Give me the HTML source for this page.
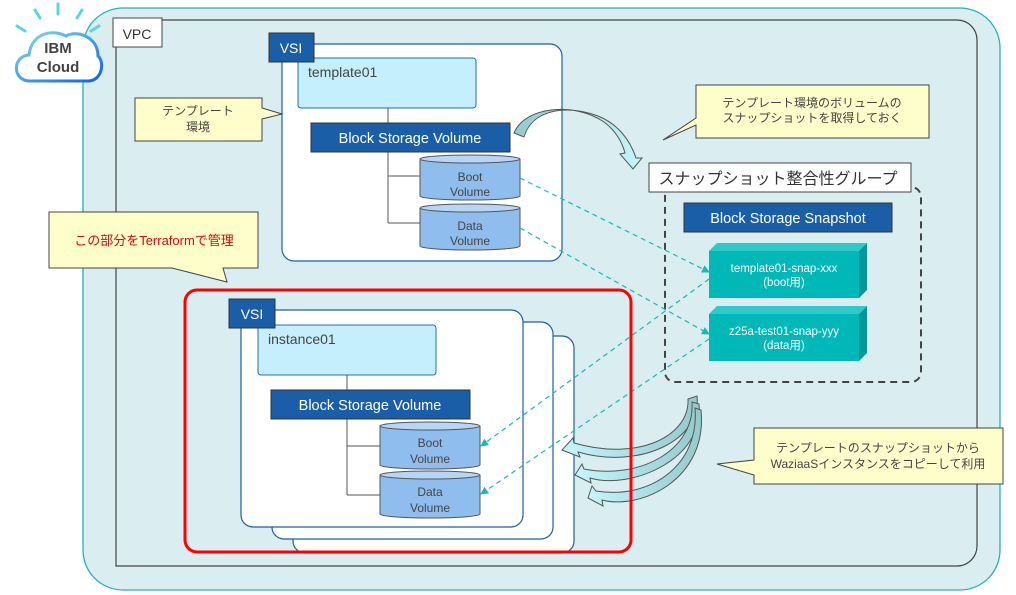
<!DOCTYPE html>
<html><head><meta charset="utf-8"><style>
html,body{margin:0;padding:0;background:#fff;}
svg{display:block;}
text{font-family:"Liberation Sans","Noto Sans CJK JP",sans-serif;}
</style></head><body>
<svg width="1016" height="595" viewBox="0 0 1016 595" xmlns="http://www.w3.org/2000/svg">
<defs>
<linearGradient id="ag" x1="0" y1="0" x2="1" y2="0"><stop offset="0" stop-color="#94cacc"/><stop offset="1" stop-color="#c4f6fc"/></linearGradient>
<linearGradient id="ag2" x1="1" y1="0" x2="0" y2="0"><stop offset="0" stop-color="#94cacc"/><stop offset="1" stop-color="#c4f6fc"/></linearGradient>
<linearGradient id="cl" x1="0" y1="0" x2="1" y2="1"><stop offset="0" stop-color="#7fe0e8"/><stop offset="1" stop-color="#1060f0"/></linearGradient>
<marker id="tri" markerWidth="8" markerHeight="8" refX="7" refY="4" orient="auto" markerUnits="userSpaceOnUse"><path d="M0,0 L8,4 L0,8 Z" fill="#1ab8b8"/></marker>
</defs>
<!-- IBM cloud region -->
<rect x="83" y="8" width="917" height="582" rx="40" fill="#daedf0" stroke="#22b4b8" stroke-width="1.3"/>
<!-- IBM Cloud logo -->
<g stroke="#5ad8d8" stroke-width="3" stroke-linecap="round">
<line x1="58" y1="4" x2="58" y2="14"/><line x1="35" y1="10" x2="40" y2="18"/><line x1="82" y1="10" x2="77" y2="18"/><line x1="17" y1="26" x2="25" y2="31"/><line x1="99" y1="26" x2="91" y2="31"/>
</g>
<path d="M30,81 C12,81 12,56 29,55 C31,35 50,28 66,36 C76,30 98,36 98,56 C105,62 102,81 88,81 Z" fill="#fff" stroke="url(#cl)" stroke-width="3"/>
<text x="58" y="53" font-size="15" font-weight="bold" fill="#444" text-anchor="middle">IBM</text>
<text x="58" y="72" font-size="15" font-weight="bold" fill="#444" text-anchor="middle">Cloud</text>
<!-- VPC -->
<path d="M116,20 H957 A20,20 0 0 1 977,40 V546 A20,20 0 0 1 957,566 H116 Z" fill="#daedf0" stroke="#444" stroke-width="1.2"/>
<rect x="113" y="18" width="49" height="29" fill="#fff" stroke="#444" stroke-width="1"/>
<text x="137" y="39" font-size="14" fill="#333" text-anchor="middle">VPC</text>

<!-- template VSI -->
<rect x="282" y="44" width="280" height="217" rx="12" fill="#fff" stroke="#1f5fa8" stroke-width="1.2"/>
<rect x="298" y="58" width="178" height="50" rx="3" fill="#c5effc" stroke="#1f6fb0"/>
<text x="308" y="77" font-size="14" fill="#444">template01</text>
<rect x="269" y="33" width="45" height="29" fill="#1a5ea8" stroke="#333"/>
<text x="291" y="53" font-size="14" fill="#fff" text-anchor="middle">VSI</text>
<path d="M388,108 V223 M388,176 H420 M388,223 H420" stroke="#555" fill="none"/>
<rect x="311" y="123" width="199" height="29" fill="#1a5ea8" stroke="#333"/>
<text x="410" y="143" font-size="14.5" fill="#fff" text-anchor="middle">Block Storage Volume</text>
<g stroke="#555" fill="#8fbdee">
<path d="M420,159 V196 A50,4 0 0 0 520,196 V159"/><ellipse cx="470" cy="159" rx="50" ry="4" fill="#b6d6f6"/>
<path d="M420,208 V246 A50,4 0 0 0 520,246 V208"/><ellipse cx="470" cy="208" rx="50" ry="4" fill="#b6d6f6"/>
</g>
<text x="470" y="181" font-size="12" fill="#444" text-anchor="middle">Boot</text>
<text x="470" y="196" font-size="12" fill="#444" text-anchor="middle">Volume</text>
<text x="470" y="230" font-size="12" fill="#444" text-anchor="middle">Data</text>
<text x="470" y="245" font-size="12" fill="#444" text-anchor="middle">Volume</text>

<!-- callout template env -->
<path d="M135,98 H262 V108 L282,114 L262,119 V141 H135 Z" fill="#fefecb" stroke="#444"/>
<text x="198" y="115" font-size="12" fill="#444" text-anchor="middle">テンプレート</text>
<text x="198" y="131" font-size="12" fill="#444" text-anchor="middle">環境</text>

<!-- terraform callout -->
<path d="M49,212 H258 V268 H223 L227,282 L172,268 H49 Z" fill="#fefecb" stroke="#444"/>
<text x="154" y="245" font-size="13" fill="#e8000a" text-anchor="middle">この部分をTerraformで管理</text>

<!-- top callout -->
<path d="M696,85 H929 V138 H696 V125 L663,140 L696,118 Z" fill="#fefecb" stroke="#444"/>
<text x="812" y="107" font-size="12" fill="#444" text-anchor="middle">テンプレート環境のボリュームの</text>
<text x="812" y="122" font-size="12" fill="#444" text-anchor="middle">スナップショットを取得しておく</text>

<!-- bottom callout -->
<path d="M754,428 H1003 V484 H754 V475 L717,464 L754,460 Z" fill="#fefecb" stroke="#444"/>
<text x="878" y="452" font-size="12" fill="#444" text-anchor="middle">テンプレートのスナップショットから</text>
<text x="878" y="468" font-size="12" fill="#444" text-anchor="middle">WaziaaSインスタンスをコピーして利用</text>

<!-- snapshot group -->
<rect x="665" y="187" width="256" height="195" rx="10" fill="none" stroke="#444" stroke-width="2" stroke-dasharray="7,5"/>
<rect x="649" y="163" width="262" height="29" fill="#fff" stroke="#444"/>
<text x="778" y="184" font-size="16" fill="#333" text-anchor="middle">スナップショット整合性グループ</text>
<rect x="684" y="203" width="208" height="29" fill="#1a5ea8" stroke="#333"/>
<text x="788" y="223" font-size="14.5" fill="#fff" text-anchor="middle">Block Storage Snapshot</text>
<g>
<path d="M709,251 L717,243 H867 L859,251 Z" fill="#30c8c8"/>
<path d="M859,251 L867,243 V290 L859,298 Z" fill="#009898"/>
<rect x="709" y="251" width="150" height="47" fill="#00b8b8"/>
<path d="M709,314 L717,306 H867 L859,314 Z" fill="#30c8c8"/>
<path d="M859,314 L867,306 V353 L859,361 Z" fill="#009898"/>
<rect x="709" y="314" width="150" height="47" fill="#00b8b8"/>
</g>
<text x="784" y="272" font-size="11.5" fill="#fff" text-anchor="middle">template01-snap-xxx</text>
<text x="784" y="286" font-size="11.5" fill="#fff" text-anchor="middle">(boot用)</text>
<text x="784" y="335" font-size="11.5" fill="#fff" text-anchor="middle">z25a-test01-snap-yyy</text>
<text x="784" y="349" font-size="11.5" fill="#fff" text-anchor="middle">(data用)</text>

<!-- instance stack -->
<rect x="293" y="336" width="281" height="217" rx="12" fill="#fff" stroke="#1f5fa8" stroke-width="1.2"/>
<rect x="272" y="322" width="281" height="217" rx="12" fill="#fff" stroke="#1f5fa8" stroke-width="1.2"/>
<rect x="241" y="310" width="282" height="217" rx="12" fill="#fff" stroke="#1f5fa8" stroke-width="1.2"/>
<rect x="258" y="325" width="178" height="50" rx="3" fill="#c5effc" stroke="#1f6fb0"/>
<text x="268" y="344" font-size="14" fill="#444">instance01</text>
<rect x="229" y="299" width="46" height="29" fill="#1a5ea8" stroke="#333"/>
<text x="252" y="319" font-size="14" fill="#fff" text-anchor="middle">VSI</text>
<path d="M347,375 V495 M347,446 H380 M347,495 H380" stroke="#555" fill="none"/>
<rect x="271" y="390" width="199" height="29" fill="#1a5ea8" stroke="#333"/>
<text x="370" y="410" font-size="14.5" fill="#fff" text-anchor="middle">Block Storage Volume</text>
<g stroke="#555" fill="#8fbdee">
<path d="M380,426 V465 A50,4 0 0 0 480,465 V426"/><ellipse cx="430" cy="426" rx="50" ry="4" fill="#b6d6f6"/>
<path d="M380,475 V514 A50,4 0 0 0 480,514 V475"/><ellipse cx="430" cy="475" rx="50" ry="4" fill="#b6d6f6"/>
</g>
<text x="430" y="447" font-size="12" fill="#444" text-anchor="middle">Boot</text>
<text x="430" y="463" font-size="12" fill="#444" text-anchor="middle">Volume</text>
<text x="430" y="496" font-size="12" fill="#444" text-anchor="middle">Data</text>
<text x="430" y="512" font-size="12" fill="#444" text-anchor="middle">Volume</text>

<!-- dashed connectors -->
<g stroke="#1ab8b8" stroke-width="1.2" stroke-dasharray="5,4" fill="none" marker-end="url(#tri)">
<line x1="520" y1="178" x2="709" y2="272"/>
<line x1="520" y1="228" x2="709" y2="334"/>
<line x1="709" y1="279" x2="481" y2="446"/>
<line x1="709" y1="339" x2="481" y2="494"/>
</g>

<!-- curved arrows bottom -->
<g stroke="#555" stroke-width="1" fill="url(#ag2)">
<path d="M688,399 L697,396 C702,440 640,470 578,452 L580,457 L562,450 L573,438 L574,443 C640,462 690,435 688,399 Z"/>
<path d="M692,402 L699,404 C705,460 630,490 590,478 L591,483 L575,475 L582,464 L584,469 C640,480 695,450 692,402 Z"/>
<path d="M695,408 L701,410 C708,480 640,510 602,500 L603,506 L588,498 L592,486 L596,491 C650,500 700,465 695,408 Z"/>
</g>
<!-- red box -->
<rect x="185" y="290" width="446" height="262" rx="12" fill="none" stroke="#f00" stroke-width="3"/>

<!-- top curved arrow -->
<path d="M514,133 C525,106 575,102 604,122 C616,131 622,142 625,153 L620,154 L633,169 L642,158 L636,158 C630,140 618,124 598,116 C565,104 532,110 524,137 Z" fill="url(#ag)" stroke="#555" stroke-width="1"/>
</svg>
</body></html>
